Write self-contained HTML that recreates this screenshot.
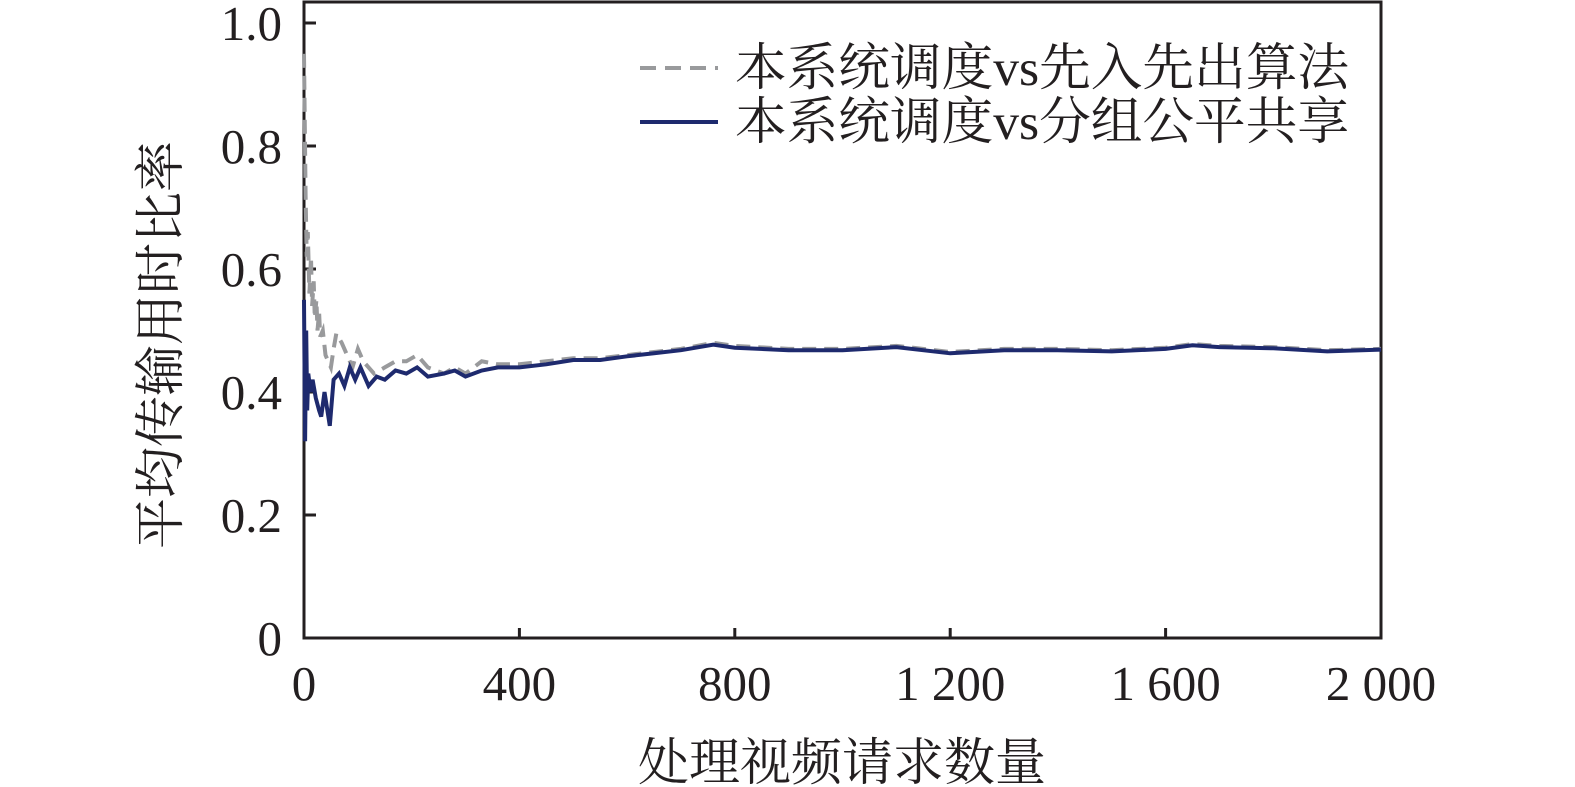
<!DOCTYPE html>
<html><head><meta charset="utf-8"><style>
body{margin:0;background:#fff}
svg{display:block}
svg text{font-family:"Liberation Serif","Noto Serif CJK SC",serif;fill:#231f20}
</style></head><body>
<svg id="c" width="1575" height="787" viewBox="0 0 1575 787" xmlns="http://www.w3.org/2000/svg"></svg>
<script>
const xTicks=[0,400,800,1200,1600,2000];
const xTickLabels=["0","400","800","1 200","1 600","2 000"];
const yTicks=[0,0.2,0.4,0.6,0.8,1.0];
const yTickLabels=["0","0.2","0.4","0.6","0.8","1.0"];
const fifoX=[0,3,5,7,10,13,15,18,20,23,25,28,30,35,40,45,50,55,60,70,80,90,100,110,130,150,170,190,210,230,260,280,300,330,360,400,450,500,550,600,650,700,760,800,900,1000,1100,1200,1300,1400,1500,1600,1650,1700,1800,1900,2000];
const fifoY=[0.95,0.72,0.62,0.66,0.56,0.62,0.54,0.58,0.52,0.55,0.5,0.53,0.49,0.5,0.46,0.45,0.44,0.47,0.495,0.48,0.46,0.44,0.47,0.45,0.43,0.44,0.45,0.45,0.46,0.44,0.43,0.44,0.43,0.45,0.445,0.445,0.45,0.455,0.455,0.46,0.465,0.47,0.48,0.475,0.47,0.47,0.475,0.465,0.47,0.47,0.468,0.472,0.478,0.475,0.473,0.468,0.47];
const fairX=[0,2,4,6,8,12,16,22,28,32,38,48,55,65,75,85,95,105,120,135,150,170,190,210,230,260,280,300,330,360,400,450,500,550,600,650,700,760,800,900,1000,1100,1200,1300,1400,1500,1600,1650,1700,1800,1900,2000];
const fairY=[0.55,0.32,0.5,0.37,0.43,0.4,0.42,0.39,0.37,0.36,0.4,0.345,0.42,0.43,0.41,0.44,0.42,0.44,0.41,0.425,0.42,0.435,0.43,0.44,0.425,0.43,0.435,0.425,0.435,0.44,0.44,0.445,0.452,0.452,0.458,0.463,0.468,0.477,0.472,0.468,0.468,0.473,0.463,0.468,0.468,0.466,0.47,0.476,0.473,0.471,0.466,0.469];
const X0=304,X1=1381,Y0=638,Y1=23;
const sx=v=>X0+(v-0)/(2000-0)*(X1-X0);
const sy=v=>Y0-(v-0)/(1-0)*(Y0-Y1);
const svg=document.getElementById('c');const NS='http://www.w3.org/2000/svg';
function mk(t,a,p){const e=document.createElementNS(NS,t);for(const k in a)e.setAttribute(k,a[k]);(p||svg).appendChild(e);return e;}
let e;
e=mk('rect',{x:X0,y:2,width:X1-X0,height:Y0-2,fill:'none',stroke:'#231f20','stroke-width':3});


xTicks.forEach((v,i)=>{
 e=mk('line',{x1:sx(v),x2:sx(v),y1:Y0,y2:Y0-10,stroke:'#231f20','stroke-width':3});
 
 
 e=mk('text',{x:sx(v),y:Y0+62,'font-size':49,'text-anchor':'middle'});e.textContent=xTickLabels[i];
 
 
});
yTicks.forEach((v,i)=>{
 e=mk('line',{x1:X0,x2:X0+12,y1:sy(v),y2:sy(v),stroke:'#231f20','stroke-width':3});
 
 
 e=mk('text',{x:X0-22,y:sy(v)+17,'font-size':49,'text-anchor':'end'});e.textContent=yTickLabels[i];
 
 
});
function line(xs,ys,col,dash,name){
 const d=xs.map((x,i)=>(i?'L':'M')+sx(x).toFixed(1)+','+sy(ys[i]).toFixed(1)).join('');
 const p=mk('path',{d:d,fill:'none',stroke:col,'stroke-width':4,'stroke-dasharray':dash});
 
 
}
line(fifoX,fifoY,'#999a9c','14,8','series-fifo');
line(fairX,fairY,'#1e2a6e','none','series-fair-share');
e=mk('line',{x1:640,x2:718,y1:68,y2:68,stroke:'#999a9c','stroke-width':4,'stroke-dasharray':'16,9'});


e=mk('text',{x:735,y:85,'font-size':51,textLength:614,lengthAdjust:'spacingAndGlyphs'});e.textContent='本系统调度vs先入先出算法';


e=mk('line',{x1:640,x2:718,y1:122,y2:122,stroke:'#1e2a6e','stroke-width':4});


e=mk('text',{x:735,y:139,'font-size':51,textLength:614,lengthAdjust:'spacingAndGlyphs'});e.textContent='本系统调度vs分组公平共享';


e=mk('text',{x:842,y:780,'font-size':51,'text-anchor':'middle'});e.textContent='处理视频请求数量';


e=mk('text',{x:0,y:0,'font-size':51,'text-anchor':'middle',transform:'translate(178,345) rotate(-90)'});e.textContent='平均传输用时比率';


</script>
</body></html>
